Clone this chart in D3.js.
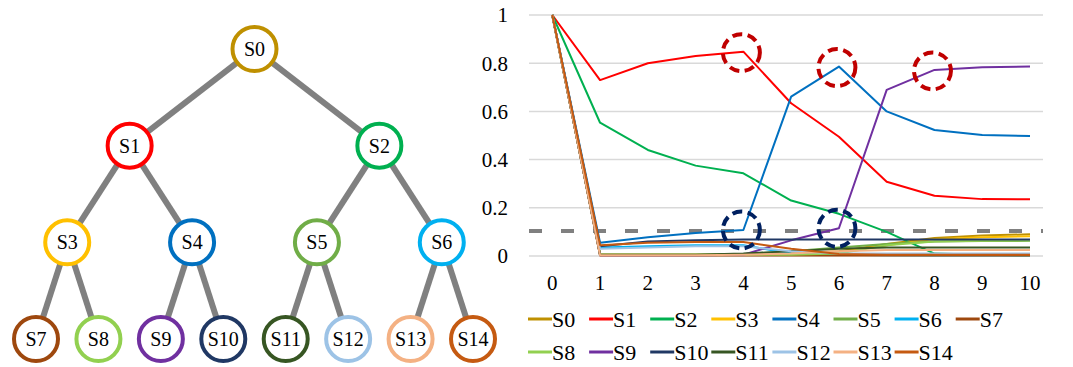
<!DOCTYPE html>
<html>
<head>
<meta charset="utf-8">
<script src="https://cdn.jsdelivr.net/npm/d3@7"></script>
<style>
  body { margin: 0; background: #fff; }
</style>
</head>
<body>
<script>
// state names and colours (tree node i has children 2i+1, 2i+2)
var states = ["S0","S1","S2","S3","S4","S5","S6","S7","S8","S9","S10","S11","S12","S13","S14"];
var colors = ["#BF9000","#FF0000","#00B050","#FFC000","#0070C0","#70AD47","#00B0F0","#9E480E",
              "#92D050","#7030A0","#203864","#375623","#9DC3E6","#F4B183","#C55A11"];

var steps = [0,1,2,3,4,5,6,7,8,9,10];
var yTicks = [0, 0.2, 0.4, 0.6, 0.8, 1];
var threshold = 0.1;

// series values, one per state
var S0  = [1, 0.005, 0.005, 0.005, 0.005, 0.01, 0.02, 0.05, 0.075, 0.085, 0.09];
var S1  = [1, 0.73, 0.80, 0.83, 0.848, 0.634, 0.495, 0.308, 0.25, 0.236, 0.235];
var S2  = [1, 0.553, 0.44, 0.375, 0.343, 0.23, 0.175, 0.10, 0.01, 0.005, 0.003];
var S3  = [1, 0.005, 0.005, 0.005, 0.005, 0.008, 0.015, 0.045, 0.07, 0.078, 0.082];
var S4  = [1, 0.055, 0.078, 0.095, 0.108, 0.661, 0.786, 0.60, 0.523, 0.502, 0.498];
var S5  = [1, 0.005, 0.005, 0.005, 0.008, 0.02, 0.035, 0.05, 0.06, 0.062, 0.063];
var S6  = [1, 0.035, 0.04, 0.045, 0.045, 0.01, 0.005, 0.003, 0.002, 0.002, 0.002];
var S7  = [1, 0.002, 0.002, 0.002, 0.002, 0.002, 0.002, 0.002, 0.002, 0.002, 0.002];
var S8  = [1, 0.005, 0.005, 0.005, 0.005, 0.005, 0.01, 0.045, 0.06, 0.063, 0.065];
var S9  = [1, 0.003, 0.003, 0.003, 0.005, 0.065, 0.115, 0.689, 0.772, 0.783, 0.786];
var S10 = [1, 0.04, 0.06, 0.065, 0.068, 0.068, 0.068, 0.068, 0.068, 0.068, 0.068];
var S11 = [1, 0.005, 0.005, 0.005, 0.01, 0.02, 0.03, 0.035, 0.035, 0.035, 0.035];
var S12 = [1, 0.03, 0.035, 0.04, 0.04, 0.02, 0.01, 0.01, 0.01, 0.01, 0.01];
var S13 = [1, 0.003, 0.003, 0.003, 0.005, 0.01, 0.02, 0.025, 0.025, 0.025, 0.025];
var S14 = [1, 0.045, 0.055, 0.058, 0.058, 0.03, 0.008, 0.005, 0.005, 0.005, 0.005];
var series = [S0,S1,S2,S3,S4,S5,S6,S7,S8,S9,S10,S11,S12,S13,S14];

// annotated points: [state index, step]
var redMarks = [[1,4],[4,6],[9,8]];
var navyMarks = [[4,4],[9,6]];

var width = 1073, height = 367;
var font = "Liberation Serif";

var svg = d3.select("body").append("svg")
  .attr("width", width)
  .attr("height", height);

// ---------- tree ----------
var tree = svg.append("g");
var leafX = d3.scaleLinear().domain([0, 7]).range([36, 473]);
var levelY = d3.scaleLinear().domain([0, 3]).range([49, 339]);

function nodePos(i) {
  var level = Math.floor(Math.log2(i + 1));
  var idx = i + 1 - Math.pow(2, level);
  var span = Math.pow(2, 3 - level);  // leaves under this node
  var x = (leafX(idx * span) + leafX(idx * span + span - 1)) / 2;
  return [x, levelY(level)];
}

var edges = [];
for (var i = 0; i < 7; i++) {
  edges.push([i, 2 * i + 1]);
  edges.push([i, 2 * i + 2]);
}

tree.selectAll("line")
  .data(edges)
  .enter()
  .append("line")
  .attr("x1", d => nodePos(d[0])[0])
  .attr("y1", d => nodePos(d[0])[1])
  .attr("x2", d => nodePos(d[1])[0])
  .attr("y2", d => nodePos(d[1])[1])
  .attr("stroke", "#808080")
  .attr("stroke-width", 6);

var nodes = tree.selectAll("g.node")
  .data(states)
  .enter()
  .append("g")
  .attr("class", "node")
  .attr("transform", (d, i) => "translate(" + nodePos(i) + ")");

nodes.append("circle")
  .attr("r", 22)
  .attr("fill", "#fff")
  .attr("stroke", (d, i) => colors[i])
  .attr("stroke-width", 4);

nodes.append("text")
  .attr("text-anchor", "middle")
  .attr("dy", "0.35em")
  .attr("font-family", font)
  .attr("font-size", 20)
  .text(d => d);

// ---------- line chart ----------
var x = d3.scaleLinear().domain([0, 10]).range([552.3, 1030]);
var y = d3.scaleLinear().domain([0, 1]).range([256, 15]);
var gridLeft = 529, gridRight = 1043;

var chart = svg.append("g");

chart.selectAll("line.grid")
  .data(yTicks)
  .enter()
  .append("line")
  .attr("class", "grid")
  .attr("x1", gridLeft)
  .attr("x2", gridRight)
  .attr("y1", d => y(d))
  .attr("y2", d => y(d))
  .attr("stroke", "#D9D9D9")
  .attr("stroke-width", 1.5);

chart.selectAll("text.ylab")
  .data(yTicks)
  .enter()
  .append("text")
  .attr("class", "ylab")
  .attr("x", 508)
  .attr("y", d => y(d))
  .attr("dy", "0.35em")
  .attr("text-anchor", "end")
  .attr("font-family", font)
  .attr("font-size", 21)
  .text(d => d3.format("~g")(d));

chart.selectAll("text.xlab")
  .data(steps)
  .enter()
  .append("text")
  .attr("class", "xlab")
  .attr("x", d => x(d))
  .attr("y", 283)
  .attr("dy", "0.35em")
  .attr("text-anchor", "middle")
  .attr("font-family", font)
  .attr("font-size", 21)
  .text(d => d);

// threshold line
chart.append("line")
  .attr("x1", gridLeft)
  .attr("x2", gridRight)
  .attr("y1", y(threshold) - 1)
  .attr("y2", y(threshold) - 1)
  .attr("stroke", "#808080")
  .attr("stroke-width", 4)
  .attr("stroke-dasharray", "13 19");

var line = d3.line()
  .x((d, i) => x(steps[i]))
  .y(d => y(d));

chart.selectAll("path.series")
  .data(series)
  .enter()
  .append("path")
  .attr("class", "series")
  .attr("d", line)
  .attr("fill", "none")
  .attr("stroke", (d, i) => colors[i])
  .attr("stroke-width", 2)
  .attr("stroke-linejoin", "round");

// dashed annotation circles (drawn a touch below the point, as in the original)
function marks(data, color, dy) {
  chart.selectAll(null)
    .data(data)
    .enter()
    .append("circle")
    .attr("cx", d => x(d[1]) - 2)
    .attr("cy", d => y(series[d[0]][d[1]]) + dy)
    .attr("r", 18.5)
    .attr("fill", "none")
    .attr("stroke", color)
    .attr("stroke-width", 4)
    .attr("stroke-dasharray", "10 5.5");
}
marks(redMarks, "#C00000", 1);
marks(navyMarks, "#002060", 0);

// ---------- legend ----------
var legend = chart.selectAll("g.legend")
  .data(states)
  .enter()
  .append("g")
  .attr("class", "legend")
  .attr("transform", (d, i) => "translate(" + (528 + (i % 8) * 61.1) + "," + (i < 8 ? 319 : 352) + ")");

legend.append("line")
  .attr("x1", 0)
  .attr("x2", 24)
  .attr("stroke", (d, i) => colors[i])
  .attr("stroke-width", 3);

legend.append("text")
  .attr("x", 24)
  .attr("dy", "0.35em")
  .attr("font-family", font)
  .attr("font-size", 22)
  .text(d => d);
</script>
</body>
</html>
